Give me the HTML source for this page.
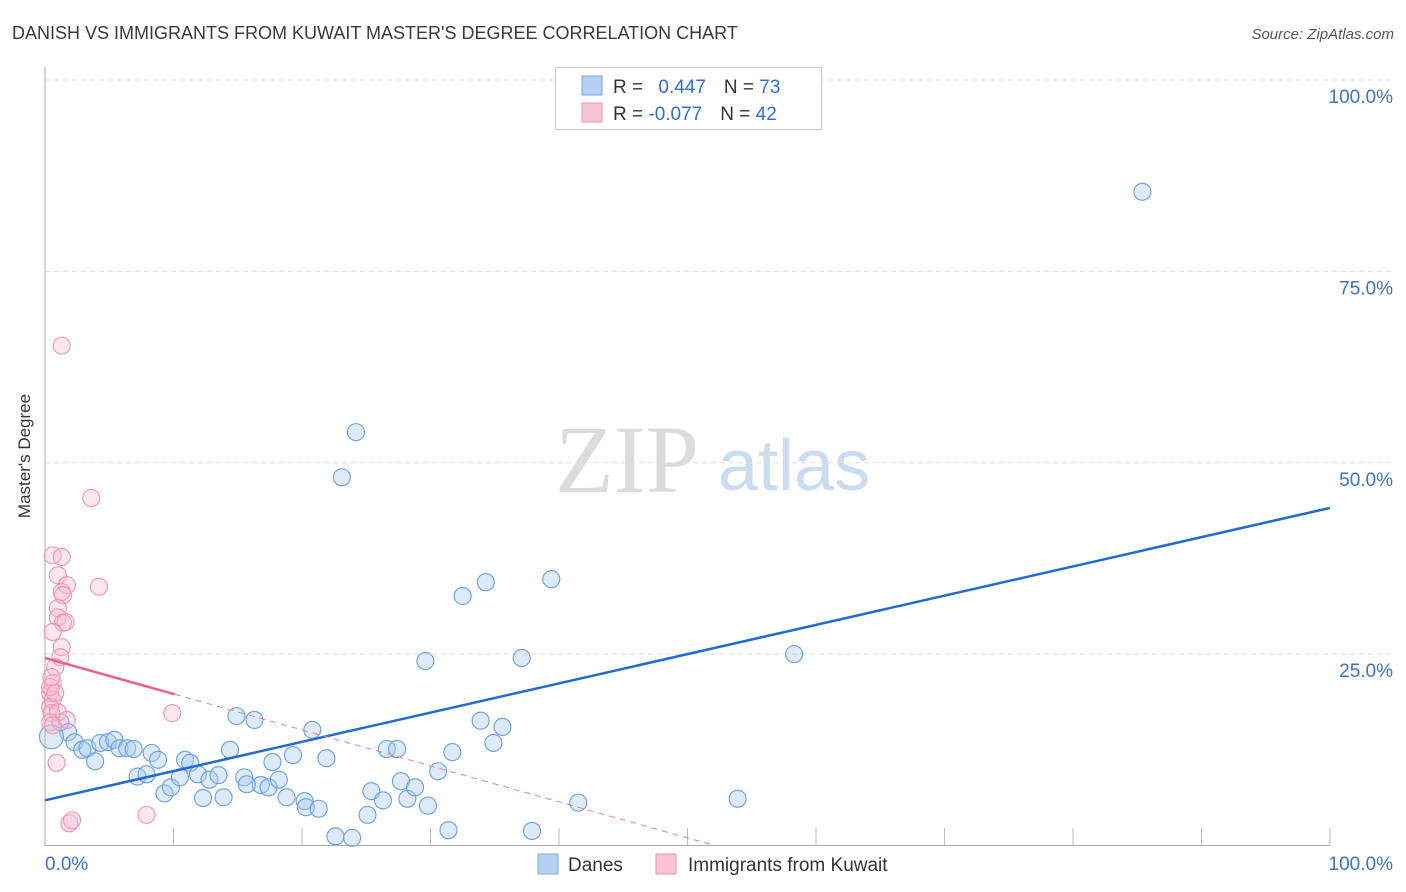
<!DOCTYPE html>
<html><head><meta charset="utf-8"><style>
body{margin:0;background:#fff;font-family:"Liberation Sans",sans-serif;}
#wrap{position:relative;width:1406px;height:892px;overflow:hidden;}
</style></head><body>
<div id="wrap">
<svg id="svg" width="1406" height="892" xmlns="http://www.w3.org/2000/svg" font-family="Liberation Sans, sans-serif">
<text x="12" y="39" font-size="18" fill="#3a3a3a">DANISH VS IMMIGRANTS FROM KUWAIT MASTER'S DEGREE CORRELATION CHART</text>
<text x="1394" y="39" font-size="15" fill="#555" text-anchor="end" font-style="italic">Source: ZipAtlas.com</text>
<text x="30" y="456" font-size="17" fill="#333" text-anchor="middle" transform="rotate(-90 30 456)">Master's Degree</text>
<g>
<text x="555" y="492" font-size="96" font-family="Liberation Serif, serif" fill="#dcdcdc">ZIP</text>
<text x="718" y="490" font-size="72" fill="#cadcf1">atlas</text>
</g>
<g id="grid"></g>
<g id="marks"></g>
<g>
<rect x="555.5" y="67.5" width="266" height="62" fill="#fff" stroke="#ccc"/>
<rect x="582" y="76" width="20" height="19" fill="#b5d0f3" stroke="#7aa6e0"/>
<rect x="582" y="103" width="20" height="19" fill="#f9c4d4" stroke="#eb93b0"/>
<text x="613" y="93" font-size="19" fill="#333">R = <tspan fill="#2f6fd2" dx="10">0.447</tspan><tspan dx="18">N = </tspan><tspan fill="#2f6fd2">73</tspan></text>
<text x="613" y="120" font-size="19" fill="#333">R = <tspan fill="#2f6fd2">-0.077</tspan><tspan dx="18">N = </tspan><tspan fill="#2f6fd2">42</tspan></text>
</g>
<g>
<rect x="538" y="854" width="20" height="20" fill="#b5d0f3" stroke="#7aa6e0"/>
<text x="568" y="871" font-size="19" fill="#333">Danes</text>
<rect x="656" y="854" width="20" height="20" fill="#f9c4d4" stroke="#eb93b0"/>
<text x="688" y="871" font-size="19" fill="#333">Immigrants from Kuwait</text>
</g>
</svg>
</div>
<script>
const danesX=[85.4,24.2,23.1,39.4,34.3,32.5,29.6,37.1,58.3,33.9,35.6,34.9,31.7,30.6,20.8,14.9,16.3,19.3,21.9,26.6,27.4,17.7,14.4,15.5,16.8,15.7,17.4,18.2,18.8,20.2,20.3,21.3,22.6,23.9,25.1,25.4,26.3,27.7,28.2,28.8,29.8,31.4,37.9,41.5,53.9,1.2,1.8,2.3,2.9,3.3,3.9,4.3,4.9,5.4,5.8,6.4,6.9,8.3,8.8,7.2,7.9,9.3,9.8,10.5,10.9,11.3,11.9,12.3,12.8,13.5,13.9,0.5];
const danesY=[85.4,54.0,48.1,34.8,34.4,32.6,24.1,24.5,25.0,16.3,15.5,13.4,12.2,9.7,15.1,16.9,16.4,11.8,11.4,12.6,12.6,10.9,12.5,8.9,7.9,8.0,7.6,8.6,6.3,5.8,5.0,4.8,1.2,1.0,4.0,7.1,5.9,8.4,6.1,7.6,5.2,2.0,1.9,5.6,6.1,16.1,14.8,13.5,12.5,12.7,11.0,13.4,13.5,13.8,12.7,12.7,12.6,12.1,11.2,9.0,9.3,6.8,7.6,8.9,11.2,10.8,9.3,6.2,8.6,9.2,6.3,14.2];
const kuwaitX=[1.3,3.6,4.2,9.9,7.9,1.9,2.1,0.9,0.6,1.3,1.0,1.7,1.3,1.4,1.0,1.0,1.4,1.6,0.6,1.3,1.2,0.8,0.6,0.4,0.6,0.4,0.5,1.0,1.7,0.4,0.6,0.4,0.8,0.5];
const kuwaitY=[65.3,45.4,33.8,17.3,4.0,2.9,3.3,10.8,37.9,37.7,35.3,34.0,33.1,32.7,31.0,29.8,29.1,29.2,27.9,25.9,24.6,23.3,21.2,19.9,19.0,18.1,17.3,17.4,16.4,16.1,15.7,20.7,19.9,22.0];
const yTicks=[25,50,75,100];
const yTickLabels=["25.0%","50.0%","75.0%","100.0%"];
const blueTrend=[5.9,44.1];
const pinkTrend=[24.5,-0.47];
const pinkSolidEnd=10.1;

const NS="http://www.w3.org/2000/svg";
const sx=v=>45+v*12.85, sy=v=>845.5-v*7.655;
function mk(tag,attrs,parent){const e=document.createElementNS(NS,tag);for(const k in attrs)e.setAttribute(k,attrs[k]);parent.appendChild(e);return e;}
const grid=document.getElementById('grid'), marks=document.getElementById('marks');
yTicks.forEach((t,i)=>{
 const l=mk('line',{x1:45,x2:1395,y1:sy(t),y2:sy(t),stroke:'#ddd','stroke-dasharray':'5,4'},grid);
 
 
 const tx=mk('text',{x:1393,y:sy(t)+23,'font-size':19,fill:'#3a72d0','text-anchor':'end'},grid);
 tx.textContent=yTickLabels[i];
 
 
});
const ax=mk('path',{d:'M45 67 V845.5 H1330',stroke:'#aaa',fill:'none'},grid);


for(let i=1;i<=10;i++){const t=mk('line',{x1:sx(i*10),x2:sx(i*10),y1:828,y2:845,stroke:'#bbb'},grid);
 
 }
const x0=mk('text',{x:45,y:870,'font-size':19,fill:'#3a72d0'},grid);x0.textContent='0.0%';


const x1=mk('text',{x:1393,y:870,'font-size':19,fill:'#3a72d0','text-anchor':'end'},grid);x1.textContent='100.0%';



danesX.forEach((x,i)=>{
 const c=mk('circle',{cx:sx(x),cy:sy(danesY[i]),r:i===danesX.length-1?12:8.5,fill:'rgba(170,202,242,0.4)',stroke:'#6a9fe2','stroke-width':1.1},marks);
 
 
});
kuwaitX.forEach((x,i)=>{
 const c=mk('circle',{cx:sx(x),cy:sy(kuwaitY[i]),r:8.5,fill:'rgba(248,185,205,0.35)',stroke:'#ee94b0','stroke-width':1.1},marks);
 
 
});
const bl=mk('line',{x1:sx(0),y1:sy(blueTrend[0]),x2:sx(100),y2:sy(blueTrend[1]),stroke:'#1f6ad6','stroke-width':2.5},marks);


const zx=-pinkTrend[0]/pinkTrend[1];
const pd=mk('line',{x1:sx(pinkSolidEnd),y1:sy(pinkTrend[0]+pinkTrend[1]*pinkSolidEnd),x2:sx(zx),y2:sy(0),stroke:'#e8809f','stroke-width':1,'stroke-dasharray':'6,5'},marks);


const ps=mk('line',{x1:sx(0),y1:sy(pinkTrend[0]),x2:sx(pinkSolidEnd),y2:sy(pinkTrend[0]+pinkTrend[1]*pinkSolidEnd),stroke:'#e8628b','stroke-width':2.5},marks);


</script>
</body></html>
